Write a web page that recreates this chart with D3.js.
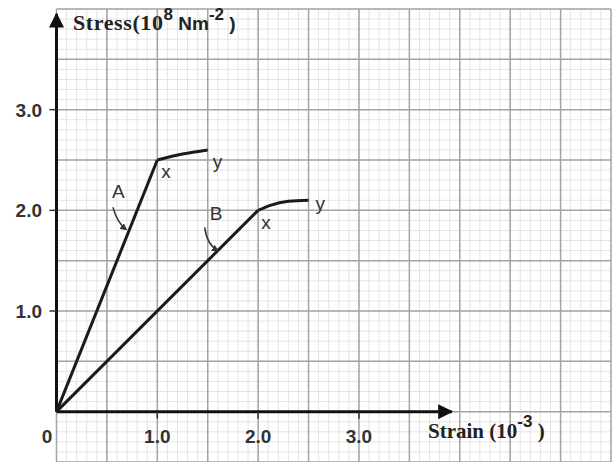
<!DOCTYPE html>
<html><head><meta charset="utf-8">
<script src="https://cdn.jsdelivr.net/npm/d3@7"></script>
<style>body{margin:0;background:#fff}svg{display:block}</style>
</head><body>
<script>
// Data
const xTicks = [1.0, 2.0, 3.0];
const yTicks = [1.0, 2.0, 3.0];
const curveA = [[0,0],[1.0,2.5],[1.25,2.56],[1.5,2.6]];
const curveB = [[0,0],[2.0,2.0],[2.12,2.05],[2.3,2.09],[2.5,2.1]];
const pointLabels = [
  {t:"x", x:1.04, y:2.32}, {t:"y", x:1.55, y:2.42},
  {t:"x", x:2.03, y:1.81}, {t:"y", x:2.57, y:2.0},
  {t:"A", x:0.55, y:2.12}, {t:"B", x:1.52, y:1.9}
];

const W = 613, H = 462;
const svg = d3.select("body").append("svg").attr("width", W).attr("height", H);
const x = d3.scaleLinear().domain([0, 5.5]).range([56.5, 611]);
const y = d3.scaleLinear().domain([-0.5, 4]).range([462, 9]);

// grid
const g = svg.append("g");
const minor = d3.range(0, 5.5001, 0.1);
const minorY = d3.range(-0.5, 4.0001, 0.1);
g.selectAll(".vm").data(minor).join("line")
  .attr("x1", d => x(d)).attr("x2", d => x(d)).attr("y1", y(4)).attr("y2", H)
  .attr("stroke", "#e4e4e4").attr("stroke-width", 1);
g.selectAll(".hm").data(minorY).join("line")
  .attr("y1", d => y(d)).attr("y2", d => y(d)).attr("x1", x(0)).attr("x2", x(5.5))
  .attr("stroke", "#e4e4e4").attr("stroke-width", 1);
const major = d3.range(0, 5.5001, 0.5);
const majorY = d3.range(-0.5, 4.0001, 0.5);
g.selectAll(".vM").data(major).join("line")
  .attr("x1", d => x(d)).attr("x2", d => x(d)).attr("y1", y(4)).attr("y2", H)
  .attr("stroke", "#a4a4a4").attr("stroke-width", 1.5);
g.selectAll(".hM").data(majorY).join("line")
  .attr("y1", d => y(d)).attr("y2", d => y(d)).attr("x1", x(0)).attr("x2", x(5.5))
  .attr("stroke", "#a4a4a4").attr("stroke-width", 1.5);

// axes
const defs = svg.append("defs");
defs.append("marker").attr("id","ah").attr("viewBox","0 0 10 10").attr("refX",9).attr("refY",5)
  .attr("markerWidth",5).attr("markerHeight",5).attr("orient","auto").attr("markerUnits","strokeWidth")
  .append("path").attr("d","M0,0L10,5L0,10Z").attr("fill","#111");
svg.append("line").attr("x1", x(0)).attr("x2", x(3.92)).attr("y1", y(0)).attr("y2", y(0))
  .attr("stroke","#111").attr("stroke-width",3).attr("marker-end","url(#ah)");
svg.append("line").attr("x1", x(0)).attr("x2", x(0)).attr("y1", y(0)).attr("y2", y(3.95))
  .attr("stroke","#111").attr("stroke-width",3).attr("marker-end","url(#ah)");

// ticks
svg.selectAll(".yt").data(yTicks).join("line")
  .attr("x1", x(0)-7).attr("x2", x(0)).attr("y1", d => y(d)).attr("y2", d => y(d))
  .attr("stroke","#333").attr("stroke-width",1.5);
svg.selectAll(".xt").data(xTicks).join("line")
  .attr("x1", d => x(d)).attr("x2", d => x(d)).attr("y1", y(0)).attr("y2", y(0)+7)
  .attr("stroke","#333").attr("stroke-width",1.5);
svg.selectAll(".ytl").data(yTicks).join("text")
  .attr("x", 42).attr("y", d => y(d)+7).attr("text-anchor","end")
  .attr("font-family","Liberation Sans, Arial, sans-serif").attr("font-weight","bold")
  .attr("font-size",19).attr("fill","#333").text(d => d.toFixed(1));
svg.selectAll(".xtl").data(xTicks).join("text")
  .attr("x", d => x(d)).attr("y", y(0)+31).attr("text-anchor","middle")
  .attr("font-family","Liberation Sans, Arial, sans-serif").attr("font-weight","bold")
  .attr("font-size",19).attr("fill","#333").text(d => d.toFixed(1));
svg.append("text").attr("x", 47).attr("y", y(0)+31).attr("text-anchor","middle")
  .attr("font-family","Liberation Sans, Arial, sans-serif").attr("font-weight","bold")
  .attr("font-size",19).attr("fill","#333").text("0");

// axis titles
const ty = svg.append("text").attr("x", 73).attr("y", 30).attr("fill","#222").attr("font-weight","bold");
ty.append("tspan").attr("font-family","Liberation Serif, Times New Roman, serif").attr("font-size",22).attr("letter-spacing",0.6).text("Stress(10");
ty.append("tspan").attr("font-family","Liberation Sans, Arial, sans-serif").attr("font-size",17).attr("dy",-10).text("8");
ty.append("tspan").attr("font-family","Liberation Sans, Arial, sans-serif").attr("font-size",19).attr("dy",10).text(" Nm");
ty.append("tspan").attr("font-family","Liberation Sans, Arial, sans-serif").attr("font-size",17).attr("dy",-10).text("-2");
ty.append("tspan").attr("font-family","Liberation Sans, Arial, sans-serif").attr("font-size",19).attr("dy",10).text(" )");

const tx = svg.append("text").attr("x", 428).attr("y", 438).attr("fill","#222").attr("font-weight","bold");
tx.append("tspan").attr("font-family","Liberation Serif, Times New Roman, serif").attr("font-size",21).text("Strain (10");
tx.append("tspan").attr("font-family","Liberation Sans, Arial, sans-serif").attr("font-size",17).attr("dy",-11).text("-3");
tx.append("tspan").attr("font-family","Liberation Serif, Times New Roman, serif").attr("font-size",21).attr("dy",11).text(" )");

// curves
const line = d3.line().x(d => x(d[0])).y(d => y(d[1])).curve(d3.curveMonotoneX);
const lineLin = d3.line().x(d => x(d[0])).y(d => y(d[1]));
[curveA, curveB].forEach(c => {
  svg.append("path").attr("d", lineLin(c.slice(0,2))).attr("fill","none").attr("stroke","#1a1a1a").attr("stroke-width",3);
  svg.append("path").attr("d", line(c.slice(1))).attr("fill","none").attr("stroke","#1a1a1a").attr("stroke-width",3);
});

// point labels
svg.selectAll(".pl").data(pointLabels).join("text")
  .attr("x", d => x(d.x)).attr("y", d => y(d.y))
  .attr("font-family","Liberation Sans, Arial, sans-serif").attr("font-size",19).attr("fill","#333")
  .text(d => d.t);

// small curved arrows
defs.append("marker").attr("id","sa").attr("viewBox","0 0 10 10").attr("refX",8).attr("refY",5)
  .attr("markerWidth",7).attr("markerHeight",7).attr("orient","auto").attr("markerUnits","userSpaceOnUse")
  .append("path").attr("d","M0,0L10,5L0,10Z").attr("fill","#333");
const arrows = [[0.56,2.03,0.6,1.88,0.69,1.81],[1.47,1.83,1.49,1.66,1.6,1.6]];
arrows.forEach(a => {
  svg.append("path").attr("d", `M${x(a[0])},${y(a[1])}Q${x(a[2])},${y(a[3])} ${x(a[4])},${y(a[5])}`)
    .attr("fill","none").attr("stroke","#333").attr("stroke-width",1.5).attr("marker-end","url(#sa)");
});
</script>
</body></html>
